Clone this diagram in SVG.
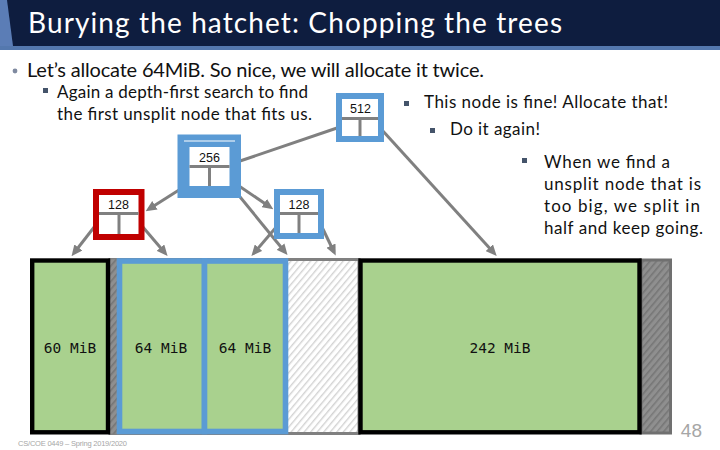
<svg xmlns="http://www.w3.org/2000/svg" width="720" height="450" viewBox="0 0 720 450">
<defs>
<style>
.t{font-family:Lato,"Open Sans","Liberation Sans",sans-serif;fill:#111;}
.mono{font-family:"DejaVu Sans Mono","Liberation Mono",monospace;font-size:14.5px;fill:#111;text-anchor:middle;}
.num{font-family:"Liberation Sans",Arial,sans-serif;font-size:12.5px;fill:#111;text-anchor:middle;}
.div{stroke:#808080;stroke-width:3;fill:none;}
.con{stroke:#808080;stroke-width:3;fill:none;}
.arr{marker-end:url(#ah);}
.sq{fill:#44546a;}
</style>
<marker id="ah" markerUnits="userSpaceOnUse" markerWidth="11" markerHeight="10" refX="7" refY="5" orient="auto">
<path d="M0,0 L11,5 L0,10 z" fill="#808080"/>
</marker>
<pattern id="hl" patternUnits="userSpaceOnUse" width="5" height="5" patternTransform="rotate(40)">
<rect width="5" height="5" fill="#fff"/>
<rect width="1.4" height="5" fill="#d3d3d3"/>
</pattern>
<pattern id="hd" patternUnits="userSpaceOnUse" width="5" height="5" patternTransform="rotate(40)">
<rect width="5" height="5" fill="#8f8f8f"/>
<rect width="1.6" height="5" fill="#767676"/>
</pattern>
</defs>
<rect width="720" height="450" fill="#fff"/>
<g id="title">
<rect x="0" y="0" width="720" height="46" fill="#0e1d3f"/>
<rect x="0" y="46" width="720" height="4" fill="#5478ae"/>
<polygon points="0,0 7,0 13,46 0,46" fill="#5b7db6"/>
<text x="28" y="33" font-family="Lato,'Open Sans',sans-serif" font-size="28" fill="#fff" textLength="534">Burying the hatchet: Chopping the trees</text>
</g>
<g id="bullets">
<circle cx="15" cy="71" r="2.4" fill="#7f8aa0"/>
<text class="t" x="27" y="77" font-size="20" textLength="457">Let’s allocate 64MiB. So nice, we will allocate it twice.</text>
<rect class="sq" x="43" y="88" width="5" height="5"/>
<text class="t" x="57" y="98" font-size="17" textLength="251">Again a depth-first search to find</text>
<text class="t" x="57" y="120" font-size="17" textLength="255">the first unsplit node that fits us.</text>
<rect class="sq" x="404" y="101" width="5" height="5"/>
<text class="t" x="424" y="108" font-size="17" textLength="244">This node is fine! Allocate that!</text>
<rect class="sq" x="430" y="128" width="5" height="5"/>
<text class="t" x="450" y="135" font-size="17" textLength="90">Do it again!</text>
<rect class="sq" x="522" y="158" width="5" height="5"/>
<text class="t" x="544" y="168" font-size="17" textLength="126">When we find a</text>
<text class="t" x="544" y="190" font-size="17" textLength="157">unsplit node that is</text>
<text class="t" x="544" y="212" font-size="17" textLength="156">too big, we split in</text>
<text class="t" x="544" y="234" font-size="17" textLength="159">half and keep going.</text>
</g>
<g id="memory">
<rect x="110" y="259.5" width="249" height="174" fill="url(#hl)" stroke="#808080" stroke-width="3"/>
<rect x="108" y="259.5" width="11" height="174" fill="url(#hd)"/>
<rect x="641" y="260" width="29.5" height="173" fill="url(#hd)" stroke="#707070" stroke-width="3"/>
</g>
<g id="block60">
<rect x="32.2" y="260.5" width="75.8" height="171.8" fill="#a9d18e" stroke="#000" stroke-width="4.4"/>
<text class="mono" x="70" y="353">60 MiB</text>
</g>
<g id="block64a">
<rect x="119.5" y="261" width="85" height="170.5" fill="#a9d18e" stroke="#5b9bd5" stroke-width="5.6"/>
<text class="mono" x="161" y="353">64 MiB</text>
</g>
<g id="block64b">
<rect x="204.5" y="261" width="81" height="170.5" fill="#a9d18e" stroke="#5b9bd5" stroke-width="5.6"/>
<text class="mono" x="245" y="353">64 MiB</text>
</g>
<g id="block242">
<rect x="360.5" y="260.5" width="279" height="171.8" fill="#a9d18e" stroke="#000" stroke-width="4.4"/>
<text class="mono" x="500" y="353">242 MiB</text>
</g>
<g id="connectors">
<line class="con" x1="240" y1="161" x2="337" y2="128"/>
<line class="con arr" x1="382" y1="130" x2="494" y2="253"/>
<line class="con arr" x1="179" y1="190" x2="149" y2="209"/>
<line class="con arr" x1="239" y1="186" x2="270" y2="207"/>
<line class="con arr" x1="236" y1="192" x2="285" y2="252"/>
<line class="con arr" x1="95" y1="226" x2="74" y2="253"/>
<line class="con arr" x1="142" y1="226" x2="165" y2="253"/>
<line class="con arr" x1="278" y1="225" x2="254" y2="253"/>
<line class="con arr" x1="321" y1="225" x2="334" y2="252"/>
</g>
<g id="node512">
<rect x="339" y="96" width="42" height="43" fill="#fff" stroke="#5b9bd5" stroke-width="6"/>
<text class="num" x="360.5" y="113">512</text>
<line class="div" x1="342" y1="118.5" x2="378" y2="118.5"/>
<line class="div" x1="360" y1="118.5" x2="360" y2="136"/>
</g>
<g id="node256">
<rect x="177.5" y="134.5" width="63.5" height="63.5" fill="#5b9bd5"/>
<line x1="184" y1="141" x2="235" y2="141" stroke="#fff" stroke-width="1"/>
<rect x="189.5" y="147" width="40" height="39" fill="#fff"/>
<text class="num" x="209.5" y="162">256</text>
<line class="div" x1="189.5" y1="166.5" x2="229.5" y2="166.5"/>
<line class="div" x1="209.5" y1="166.5" x2="209.5" y2="186"/>
</g>
<g id="node128a">
<rect x="96" y="192" width="45.5" height="45" fill="#fff" stroke="#c00000" stroke-width="6"/>
<text class="num" x="118.5" y="208.5">128</text>
<line class="div" x1="99" y1="213.5" x2="138.5" y2="213.5"/>
<line class="div" x1="119" y1="213.5" x2="119" y2="234"/>
</g>
<g id="node128b">
<rect x="277" y="192" width="44" height="44" fill="#fff" stroke="#5b9bd5" stroke-width="6"/>
<text class="num" x="299" y="208.5">128</text>
<line class="div" x1="280" y1="213.5" x2="318" y2="213.5"/>
<line class="div" x1="299" y1="213.5" x2="299" y2="233"/>
</g>
<g id="footer">
<text x="18" y="446" font-family="'Liberation Sans',Arial,sans-serif" font-size="7.5" fill="#a6a6a6" textLength="109">CS/COE 0449 – Spring 2019/2020</text>
<text x="702" y="437" font-family="'Liberation Sans',Arial,sans-serif" font-size="19" fill="#a6a6a6" text-anchor="end">48</text>
</g>
</svg>
